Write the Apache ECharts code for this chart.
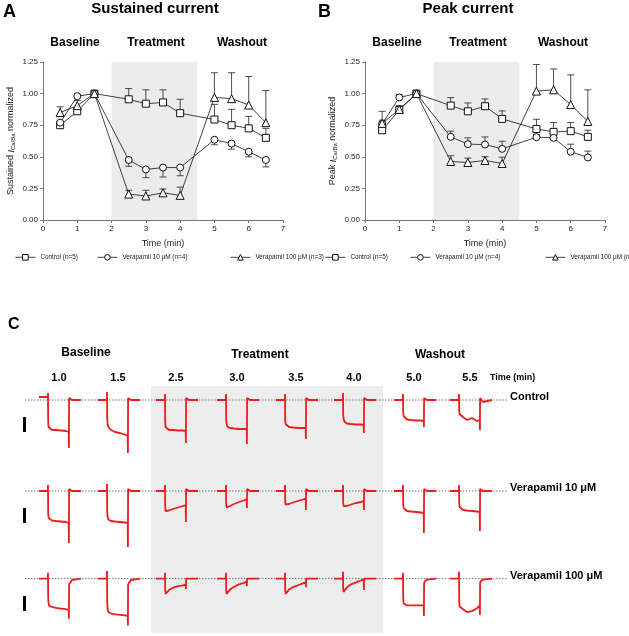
<!DOCTYPE html>
<html>
<head>
<meta charset="utf-8">
<title>Sustained and peak current</title>
<script src="https://cdn.jsdelivr.net/npm/echarts@6/dist/echarts.min.js"></script>
</head>
<body style="margin:0">
<div id="main" style="width:629px;height:636px;"></div>
<script>
// ---- panels A / B : normalized current vs time ----
var times = [0.5, 1, 1.5, 2.5, 3, 3.5, 4, 5, 5.5, 6, 6.5];
var names = ['Control (n=5)', 'Verapamil 10 μM (n=4)', 'Verapamil 100 μM (n=3)'];
var symbols = ['rect', 'circle', 'triangle'];

var sustControl = [0.75, 0.86, 1.00, 0.955, 0.92, 0.93, 0.845, 0.795, 0.75, 0.725, 0.65];
var sustVer10   = [0.77, 0.98, 1.00, 0.475, 0.40, 0.415, 0.415, 0.635, 0.605, 0.54, 0.475];
var sustVer100  = [0.85, 0.905, 1.00, 0.205, 0.19, 0.215, 0.195, 0.97, 0.96, 0.91, 0.77];
var sustControlSem = [0.03, 0.02, 0, 0.085, 0.11, 0.10, 0.11, 0.12, 0.125, 0.095, 0.075];
var sustVer10Sem   = [-0.02, -0.01, 0, -0.05, -0.065, -0.075, -0.065, -0.04, -0.045, -0.04, -0.055];
var sustVer100Sem  = [0.045, 0.04, 0, 0.03, 0.045, 0.03, 0.065, 0.195, 0.205, 0.225, 0.255];

var peakControl = [0.71, 0.87, 1.00, 0.905, 0.86, 0.90, 0.80, 0.72, 0.697, 0.703, 0.658];
var peakVer10   = [0.76, 0.97, 1.00, 0.658, 0.60, 0.597, 0.563, 0.655, 0.65, 0.54, 0.495];
var peakVer100  = [0.765, 0.875, 1.00, 0.463, 0.455, 0.471, 0.447, 1.02, 1.03, 0.913, 0.78];
var peakControlSem = [0.07, 0.02, 0, 0.063, 0.066, 0.058, 0.063, 0.077, 0.074, 0.068, 0.052];
var peakVer10Sem   = [0.03, 0.02, 0, 0.045, 0.05, 0.06, 0.06, 0.02, 0.02, 0.06, 0.05];
var peakVer100Sem  = [0.095, 0.03, 0, 0.045, 0.035, 0.03, 0.05, 0.21, 0.165, 0.235, 0.25];

// ---- panel C : example current traces (arbitrary units, baseline 0) ----
var traceTime = [0, 88, 90, 92, 96, 104, 130, 170, 220, 270, 297, 299, 301, 305, 330, 420];
var traceLabels = ['1.0', '1.5', '2.5', '3.0', '3.5', '4.0', '5.0', '5.5'];
var rowNames = ['Control', 'Verapamil 10 μM', 'Verapamil 100 μM'];

var controlTraces = [
  [30, 30, 70, -220, -270, -290, -300, -300, -305, -310, -320, -480, 20, 0, 0, 0],
  [0, 0, 80, -180, -240, -270, -300, -320, -330, -345, -360, -530, 20, 0, 0, 0],
  [0, 0, 60, -220, -270, -290, -300, -300, -305, -305, -310, -430, 20, 0, 0, 0],
  [0, 0, 60, -200, -240, -265, -280, -285, -290, -290, -290, -440, 20, 0, 0, 0],
  [0, 0, 60, -200, -240, -260, -270, -275, -280, -280, -280, -390, 20, 0, 0, 0],
  [0, 0, 70, -150, -190, -215, -235, -240, -245, -245, -250, -330, 20, 0, 0, 0],
  [0, 0, 60, -120, -160, -180, -195, -200, -205, -205, -210, -270, 20, 0, 0, 0],
  [0, 0, 60, -100, -140, -160, -170, -200, -180, -210, -200, -300, 20, 0, -20, 0]
];
var ver10Traces = [
  [0, 0, 60, -220, -270, -290, -295, -300, -305, -310, -320, -520, 20, 0, 0, 0],
  [0, 0, 70, -200, -260, -285, -300, -305, -310, -315, -320, -560, 20, 0, 0, 0],
  [0, 0, 60, -150, -200, -210, -195, -180, -165, -150, -140, -310, 20, 0, 0, 0],
  [0, 0, 60, -130, -165, -170, -150, -130, -110, -95, -80, -170, 20, 0, 0, 0],
  [0, 0, 60, -110, -135, -140, -130, -115, -100, -85, -75, -190, 20, 0, 0, 0],
  [0, 0, 60, -120, -150, -160, -150, -135, -120, -110, -100, -190, 20, 0, 0, 0],
  [0, 0, 60, -130, -170, -190, -200, -205, -210, -215, -220, -420, 20, 0, 0, 0],
  [0, 0, 60, -120, -160, -180, -190, -195, -200, -205, -210, -400, 20, 0, 0, 0]
];
var ver100Traces = [
  [0, 0, 60, -200, -260, -285, -295, -305, -315, -320, -330, -420, -60, -40, -15, 0],
  [0, 0, 80, -240, -320, -350, -365, -375, -380, -385, -390, -490, -60, -40, -15, 0],
  [0, 0, 60, -120, -160, -150, -120, -95, -80, -70, -60, -110, 0, 0, 0, 0],
  [0, 0, 60, -120, -160, -150, -115, -85, -60, -45, -30, -80, 0, 0, 0, 0],
  [0, 0, 60, -120, -160, -145, -115, -90, -70, -50, -40, -90, 0, 0, 0, 0],
  [0, 0, 70, -100, -140, -120, -90, -60, -40, -20, -10, -120, 0, 0, 0, 0],
  [0, 0, 60, -200, -260, -275, -280, -280, -280, -280, -280, -390, -60, -30, -10, 0],
  [0, 0, 70, -220, -290, -310, -320, -350, -340, -310, -280, -380, -60, -30, -10, 0]
];

var FONT = 'Arial, "Liberation Sans", sans-serif';
var myChart = echarts.init(document.getElementById('main'));

var grids = [], xAxes = [], yAxes = [], series = [], legends = [];

function errRender(params, api) {
  var x = api.value(0), y = api.value(1), e = api.value(2);
  var p0 = api.coord([x, y]);
  var p1 = api.coord([x, e]);
  var st = { stroke: '#222', lineWidth: 0.8 };
  return {
    type: 'group',
    children: [
      { type: 'line', shape: { x1: p0[0], y1: p0[1], x2: p1[0], y2: p1[1] }, style: st },
      { type: 'line', shape: { x1: p1[0] - 3.5, y1: p1[1], x2: p1[0] + 3.5, y2: p1[1] }, style: st }
    ]
  };
}

function addPanel(idx, left, yName, vals, sems, legendLefts) {
  grids.push({ left: left, top: 62, width: 240, height: 158 });
  xAxes.push({
    gridIndex: idx, type: 'value', min: 0, max: 7, interval: 1,
    name: 'Time (min)', nameLocation: 'middle', nameGap: 19,
    nameTextStyle: { fontSize: 9, color: '#222', fontFamily: FONT },
    axisLine: { lineStyle: { color: '#777' } },
    axisTick: { show: true, length: 3, lineStyle: { color: '#777' } },
    axisLabel: { fontSize: 8, color: '#222', fontFamily: FONT, margin: 5 },
    splitLine: { show: false }
  });
  yAxes.push({
    gridIndex: idx, type: 'value', min: 0, max: 1.25, interval: 0.25,
    name: yName, nameLocation: 'middle', nameGap: 27, nameRotate: 90,
    nameTextStyle: {
      fontSize: 9, color: '#222', fontFamily: FONT,
      rich: {
        a: { fontSize: 9, color: '#222', fontFamily: FONT },
        i: { fontSize: 9, color: '#222', fontStyle: 'italic', fontFamily: FONT },
        s: { fontSize: 6, color: '#222', fontFamily: FONT, padding: [4, 0, 0, 0] }
      }
    },
    axisLine: { show: true, lineStyle: { color: '#777' } },
    axisTick: { show: true, length: 3, lineStyle: { color: '#777' } },
    axisLabel: { fontSize: 8, color: '#222', fontFamily: FONT, margin: 5,
      formatter: function (v) { return v.toFixed(2); } },
    splitLine: { show: false }
  });
  for (var k = 0; k < 3; k++) {
    var errData = times.map(function (t, i) {
      return [t, vals[k][i], vals[k][i] + sems[k][i]];
    }).filter(function (d) { return d[2] !== d[1]; });
    series.push({
      type: 'custom', xAxisIndex: idx, yAxisIndex: idx, z: 1, silent: true,
      renderItem: errRender, encode: { x: 0, y: [1, 2] }, data: errData
    });
    var s = {
      type: 'line', name: names[k], xAxisIndex: idx, yAxisIndex: idx, z: 3,
      data: times.map(function (t, i) { return [t, vals[k][i]]; }),
      symbol: symbols[k], symbolSize: k === 2 ? 8 : 7,
      lineStyle: { color: '#111', width: 0.8 },
      itemStyle: { color: '#fff', borderColor: '#111', borderWidth: 1 }
    };
    if (k === 0) {
      s.markArea = {
        silent: true, itemStyle: { color: '#ececec' },
        data: [[{ coord: [2, 0] }, { coord: [4.5, 1.25] }]]
      };
    }
    series.push(s);
    legends.push({
      data: [names[k]], left: legendLefts[k], top: 254,
      itemWidth: 20, itemHeight: 7, itemGap: 4, padding: 0,
      lineStyle: { color: '#111', width: 0.8 },
      itemStyle: { color: '#fff', borderColor: '#111', borderWidth: 1 },
      textStyle: { fontSize: 6.4, color: '#222', fontFamily: FONT }
    });
  }
}

addPanel(0, 43, '{a|Sustained }{i|I}{s|Ca/Ba}{a| normalized}',
  [sustControl, sustVer10, sustVer100], [sustControlSem, sustVer10Sem, sustVer100Sem], [15, 97, 230]);
addPanel(1, 365, '{a|Peak }{i|I}{s|Ca/Ba}{a| normalized}',
  [peakControl, peakVer10, peakVer100], [peakControlSem, peakVer10Sem, peakVer100Sem], [325, 410, 545]);

// panel C layout
var colLeft = [39, 98, 156, 217, 276, 334, 394, 450];
var rowBase = [400, 491, 579];
var rowTraces = [controlTraces, ver10Traces, ver100Traces];

for (var r = 0; r < 3; r++) {
  // dotted baseline spanning the row
  var gi = grids.length;
  grids.push({ left: 25, top: rowBase[r] - 10, width: 483, height: 70 });
  xAxes.push({ gridIndex: gi, type: 'value', min: 0, max: 1, show: false });
  yAxes.push({ gridIndex: gi, type: 'value', min: -600, max: 100, show: false });
  series.push({
    type: 'line', xAxisIndex: gi, yAxisIndex: gi, silent: true, showSymbol: false, z: 1,
    data: [[0, 0], [1, 0]],
    lineStyle: { color: '#777', width: 1, type: [1.5, 1.5] }
  });
  for (var c = 0; c < 8; c++) {
    gi = grids.length;
    grids.push({ left: colLeft[c], top: rowBase[r] - 10, width: 42, height: 70 });
    xAxes.push({ gridIndex: gi, type: 'value', min: 0, max: 420, show: false });
    yAxes.push({ gridIndex: gi, type: 'value', min: -600, max: 100, show: false });
    var vals = rowTraces[r][c];
    series.push({
      type: 'line', xAxisIndex: gi, yAxisIndex: gi, silent: true, showSymbol: false, z: 2,
      data: traceTime.map(function (t, i) { return [t, vals[i]]; }),
      lineStyle: { color: '#ee1c1c', width: 1.8 }
    });
  }
}

var graphics = [
  { type: 'rect', z: -10, shape: { x: 151, y: 386, width: 232, height: 247 }, style: { fill: '#ededed' } }
];
function txt(x, y, s, size, align, weight) {
  graphics.push({
    type: 'text', x: x, y: y, z: 10,
    style: { text: s, fill: '#000', align: align || 'center', verticalAlign: 'middle',
      font: (weight || 'bold') + ' ' + size + 'px ' + FONT }
  });
}
txt(3, 12, 'A', 18, 'left');
txt(155, 9, 'Sustained current', 15);
txt(75, 43, 'Baseline', 12);
txt(156, 43, 'Treatment', 12);
txt(242, 43, 'Washout', 12);
txt(318, 12, 'B', 18, 'left');
txt(468, 9, 'Peak current', 15);
txt(397, 43, 'Baseline', 12);
txt(478, 43, 'Treatment', 12);
txt(563, 43, 'Washout', 12);
txt(8, 325, 'C', 16, 'left');
txt(86, 353, 'Baseline', 12);
txt(260, 355, 'Treatment', 12);
txt(440, 355, 'Washout', 12);
for (var i = 0; i < traceLabels.length; i++) {
  txt(colLeft[i] + 20, 378, traceLabels[i], 11);
}
txt(490, 378, 'Time (min)', 9, 'left');
for (var j = 0; j < 3; j++) {
  txt(510, rowBase[j] - 3, rowNames[j], 11, 'left');
  graphics.push({ type: 'rect', shape: { x: 23, y: rowBase[j] + 17, width: 3, height: 15 }, style: { fill: '#000' } });
}

myChart.setOption({
  animation: false,
  backgroundColor: '#fff',
  grid: grids,
  xAxis: xAxes,
  yAxis: yAxes,
  legend: legends,
  series: series,
  graphic: graphics
});
</script>
</body>
</html>
